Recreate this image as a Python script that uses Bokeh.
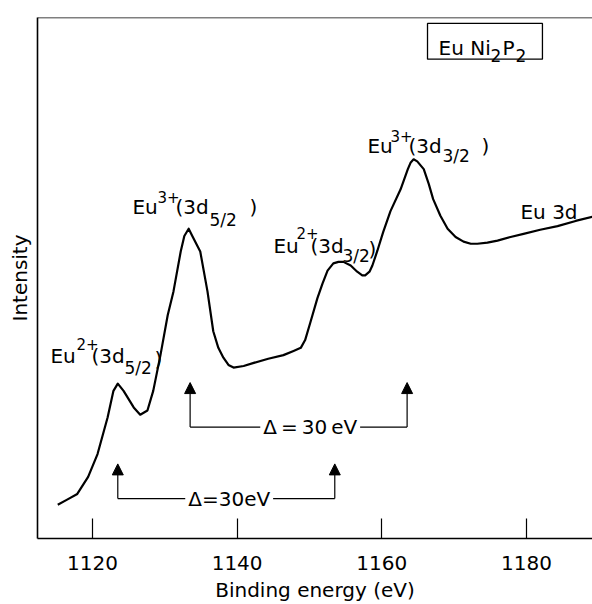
from bokeh.plotting import figure
from bokeh.models import Label, Arrow, NormalHead, FixedTicker, Span, BoxAnnotation
from bokeh.embed import file_html
from bokeh.resources import INLINE

# ---- data ----
energy = [1115.2, 1116.5, 1117.9, 1119.4, 1120.7, 1122.1, 1122.9, 1123.5, 1124.3, 1125.7,
          1126.6, 1127.6, 1128.4, 1129.4, 1130.4, 1131.2, 1132.2, 1132.7, 1133.3, 1133.8,
          1134.9, 1135.9, 1136.7, 1137.4, 1138.1, 1138.8, 1139.5, 1140.9, 1142.3, 1144.3,
          1146.4, 1147.8, 1148.8, 1149.4, 1150.1, 1151.1, 1151.8, 1152.5, 1153.3, 1154.0,
          1154.7, 1155.7, 1156.6, 1157.3, 1157.7, 1158.3, 1158.7, 1159.4, 1160.2, 1161.2,
          1162.6, 1163.6, 1164.0, 1164.4, 1164.9, 1165.8, 1166.5, 1167.1, 1168.1, 1169.1,
          1170.2, 1171.3, 1172.3, 1173.2, 1174.6, 1176.0, 1177.8, 1179.6, 1181.9, 1184.3,
          1186.8, 1189.1]
intensity = [6.5, 7.5, 8.6, 11.9, 16.3, 23.4, 28.5, 29.9, 28.5, 25.3,
             23.9, 24.7, 28.5, 35.4, 43.1, 47.7, 55.4, 58.4, 59.8, 58.4,
             55.4, 47.7, 40.0, 36.8, 34.9, 33.5, 33.0, 33.3, 33.9, 34.7,
             35.4, 36.2, 36.8, 38.3, 41.6, 46.4, 49.2, 51.7, 53.1, 53.4,
             53.4, 52.7, 51.5, 50.8, 50.8, 51.5, 52.7, 55.6, 59.2, 63.2,
             67.4, 71.3, 72.6, 73.2, 72.8, 71.3, 68.4, 65.5, 62.3, 59.8,
             58.2, 57.3, 56.9, 56.9, 57.1, 57.5, 58.2, 58.8, 59.6, 60.3,
             61.3, 62.1]

x_ticks = [1120, 1140, 1160, 1180]

# splitting arrows (Eu2+ pair and Eu3+ pair)
arrow_left = [1123.5, 1133.5]
arrow_right = [1153.5, 1163.5]
arrow_base = [7.7, 21.5]
arrow_tip = [14.4, 30.1]
delta_text = ["\u0394=30eV", "\u0394\u2009=\u200930\u2009eV"]
delta_text_x = [1138.9, 1150.1]

FONT = "DejaVu Sans"
X_START, X_END = 1112.4, 1189.13
Y_START, Y_END = 0, 100.57

p = figure(width=592, height=604, x_range=(X_START, X_END), y_range=(Y_START, Y_END),
           output_backend="svg", toolbar_location=None,
           min_border_left=37, min_border_right=0, min_border_top=17, min_border_bottom=62)
p.outline_line_color = None
p.xgrid.visible = False
p.ygrid.visible = False
p.background_fill_color = "white"
p.border_fill_color = "white"

# x axis
xa = p.xaxis[0]
xa.ticker = FixedTicker(ticks=x_ticks)
xa.major_tick_in = 20
xa.major_tick_out = 0
xa.minor_tick_in = 0
xa.minor_tick_out = 0
xa.axis_line_width = 1.6
xa.axis_line_color = "black"
xa.major_tick_line_width = 1.2
xa.major_tick_line_color = "black"
xa.major_label_text_font = FONT
xa.major_label_text_font_size = "20px"
xa.major_label_text_color = "black"
xa.major_label_standoff = 17
xa.axis_label = "Binding energy (eV)"
xa.axis_label_text_font = FONT
xa.axis_label_text_font_size = "20px"
xa.axis_label_text_font_style = "normal"
xa.axis_label_text_color = "black"
xa.axis_label_standoff = 5

# y axis
ya = p.yaxis[0]
ya.ticker = FixedTicker(ticks=[])
ya.major_tick_in = 0
ya.major_tick_out = 0
ya.minor_tick_in = 0
ya.minor_tick_out = 0
ya.major_label_text_font_size = "0px"
ya.major_label_standoff = 0
ya.axis_line_width = 1.6
ya.axis_line_color = "black"
ya.axis_label = "Intensity"
ya.axis_label_text_font = FONT
ya.axis_label_text_font_size = "20px"
ya.axis_label_text_font_style = "normal"
ya.axis_label_text_color = "black"
ya.axis_label_standoff = 6

# top frame line
p.add_layout(Span(location=Y_END, dimension="width", line_color="black", line_width=1.6))

# spectrum
p.line(energy, intensity, line_color="black", line_width=2.2, line_join="round")

# arrows
for xl, xr, yb, yt, txt, tx in zip(arrow_left, arrow_right, arrow_base, arrow_tip,
                                   delta_text, delta_text_x):
    p.segment(x0=[xl], y0=[yb], x1=[xr], y1=[yb], line_color="black", line_width=1.2)
    for xv in (xl, xr):
        p.add_layout(Arrow(x_start=xv, y_start=yb, x_end=xv, y_end=yt, line_width=1.2,
                           line_color="black",
                           end=NormalHead(size=11, fill_color="black", line_color="black",
                                          line_width=1)))
    p.add_layout(Label(x=tx, y=yb, text=txt, text_font=FONT, text_font_size="20px",
                       text_align="center", text_baseline="middle", text_color="black",
                       background_fill_color="white", padding=3))


def composite(x, y, segs):
    for text, dx, dy, size in segs:
        p.add_layout(Label(x=x, y=y, x_offset=dx, y_offset=dy, text=text,
                           text_font=FONT, text_font_size=f"{size}px",
                           text_align="left", text_baseline="alphabetic",
                           text_color="black"))


composite(1114.19, 35.25, [("Eu", 0, 0, 20), ("2+", 26, 12, 15), ("(3d", 41, 0, 20),
                           ("5/2", 74, -12, 17), (")", 104, -3, 20)])
composite(1125.53, 63.98, [("Eu", 0, 0, 20), ("3+", 25, 10, 15), ("(3d", 43, 0, 20),
                           ("5/2", 77, -13, 17), (")", 117, 0, 20)])
composite(1145.02, 56.51, [("Eu", 0, 0, 20), ("2+", 23, 13, 15), ("(3d", 37, 0, 20),
                           ("3/2", 69, -10, 17), (")", 95, -3, 20)])
composite(1158.02, 75.67, [("Eu", 0, 0, 20), ("3+", 23, 10, 15), ("(3d", 41, 0, 20),
                           ("3/2", 75, -10, 17), (")", 114, 0, 20)])
composite(1179.17, 63.03, [("Eu 3d", 0, 0, 20)])

# compound box
composite(1167.84, 94.64, [("Eu Ni", 0, 0, 20), ("2", 52, -7, 17), ("P", 64, 0, 20),
                           ("2", 77, -7, 17)])
p.add_layout(BoxAnnotation(left=1166.32, right=1182.21, top=99.43, bottom=92.53,
                           fill_alpha=0, line_color="black", line_alpha=1, line_width=1.3))

open("out.html", "w").write(file_html(p, INLINE))
